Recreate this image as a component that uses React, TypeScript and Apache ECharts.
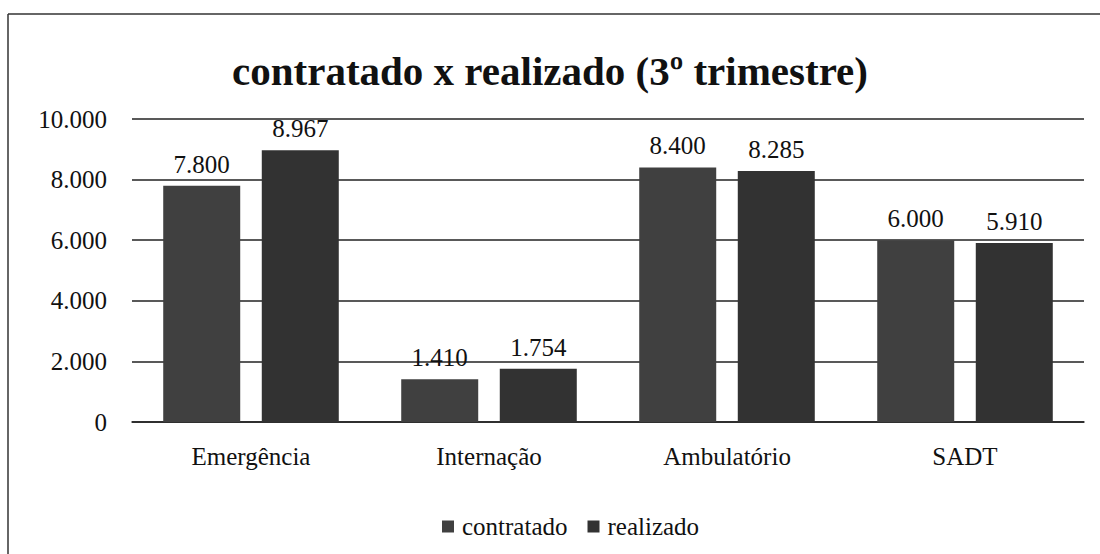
import React, { useEffect, useRef } from "react";
import * as echarts from "echarts";

const categories = ["Emergência", "Internação", "Ambulatório", "SADT"];
const contratado = [7800, 1410, 8400, 6000];
const realizado = [8967, 1754, 8285, 5910];
const seriesNames = ["contratado", "realizado"];
const titleText = "contratado x realizado (3º trimestre)";

const fmt = (v: number) => {
  const s = String(Math.round(v));
  return s.replace(/\B(?=(\d{3})+(?!\d))/g, ".");
};

const FONT = "Liberation Serif";

export default function App() {
  const ref = useRef<HTMLDivElement>(null);
  useEffect(() => {
    if (!ref.current) return;
    const chart = echarts.init(ref.current, null, { renderer: "svg" });
    const labelStyle = {
      show: true,
      position: "top" as const,
      distance: 9,
      fontFamily: FONT,
      fontSize: 25,
      color: "#111",
      formatter: (p: any) => fmt(p.value),
    };
    chart.setOption({
      animation: false,
      backgroundColor: "#fff",
      title: {
        text: titleText,
        left: "center",
        top: 45,
        textStyle: { fontFamily: FONT, fontSize: 41, fontWeight: "bold", color: "#111" },
      },
      legend: {
        data: seriesNames,
        left: 437,
        top: 509,
        itemWidth: 12,
        itemHeight: 12,
        itemGap: 20,
        icon: "rect",
        textStyle: { fontFamily: FONT, fontSize: 25, color: "#111", padding: [0, 0, 0, 3] },
      },
      grid: { left: 132, right: 16, top: 119, bottom: 132, containLabel: false },
      xAxis: {
        type: "category",
        data: categories,
        axisTick: { show: false },
        axisLine: { show: true, lineStyle: { color: "#222", width: 1.5 } },
        axisLabel: { fontFamily: FONT, fontSize: 25, color: "#111", margin: 22 },
      },
      yAxis: {
        type: "value",
        min: 0,
        max: 10000,
        interval: 2000,
        axisLine: { show: false },
        axisTick: { show: false },
        splitLine: { lineStyle: { color: "#222", width: 1.5 } },
        axisLabel: {
          fontFamily: FONT,
          fontSize: 25,
          color: "#111",
          margin: 25,
          formatter: (v: number) => fmt(v),
        },
      },
      graphic: [
        { type: "line", shape: { x1: 8, y1: 14, x2: 1100, y2: 14 }, style: { stroke: "#333", lineWidth: 1.5 } },
        { type: "line", shape: { x1: 8, y1: 14, x2: 8, y2: 554 }, style: { stroke: "#333", lineWidth: 1.5 } },
      ],
      series: [
        {
          name: seriesNames[0],
          type: "bar",
          data: contratado,
          barWidth: 77,
          barGap: "28%",
          itemStyle: { color: "#404040" },
          label: labelStyle,
        },
        {
          name: seriesNames[1],
          type: "bar",
          data: realizado,
          barWidth: 77,
          itemStyle: { color: "#323232" },
          label: labelStyle,
        },
      ],
    });
    return () => chart.dispose();
  }, []);
  return <div ref={ref} style={{ width: 1100, height: 554, position: "absolute", left: 0, top: 0 }} />;
}
